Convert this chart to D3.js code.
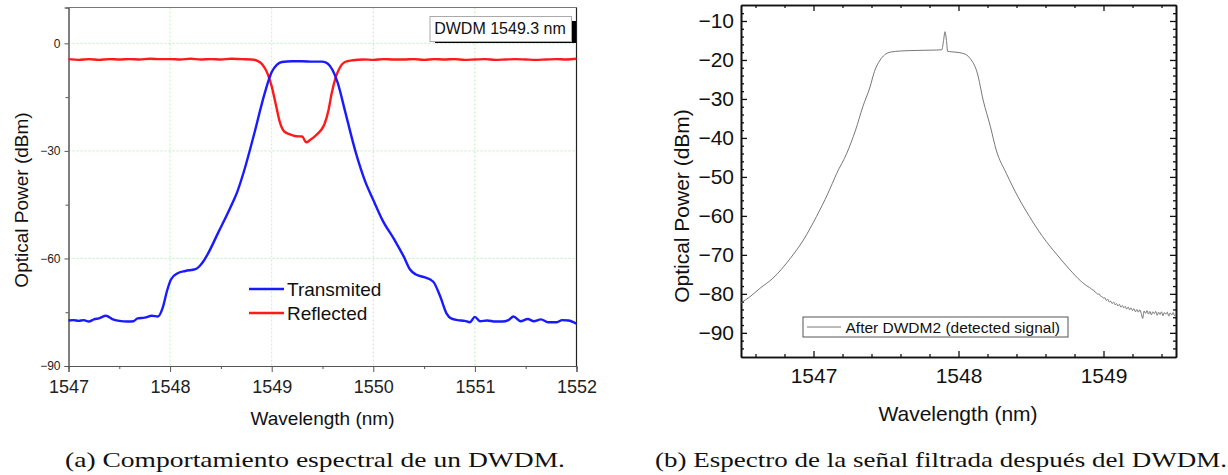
<!DOCTYPE html>
<html>
<head>
<meta charset="utf-8">
<script src="https://cdn.jsdelivr.net/npm/d3@7"></script>
<style>
  body { margin: 0; background: #fff; }
  svg { display: block; }
</style>
</head>
<body>
<svg id="fig" width="1228" height="475"></svg>
<script>
// ---- panel (a) data ----
var transWl = [1547.00,1547.05,1547.10,1547.15,1547.20,1547.25,1547.30,1547.37,1547.43,1547.50,1547.58,1547.64,1547.68,1547.75,1547.82,1547.88,1547.93,1547.97,1548.01,1548.07,1548.15,1548.25,1548.31,1548.37,1548.47,1548.59,1548.66,1548.73,1548.83,1548.93,1549.00,1549.05,1549.10,1549.20,1549.30,1549.40,1549.50,1549.55,1549.60,1549.65,1549.72,1549.83,1549.92,1550.00,1550.09,1550.21,1550.30,1550.36,1550.42,1550.50,1550.59,1550.66,1550.72,1550.77,1550.83,1550.90,1550.95,1551.00,1551.05,1551.12,1551.20,1551.27,1551.33,1551.38,1551.45,1551.52,1551.58,1551.65,1551.72,1551.80,1551.86,1551.92,1552.00];
var transDb = [-77.3,-77.2,-77.4,-77.2,-77.6,-77.0,-76.7,-76.0,-76.9,-77.4,-77.6,-77.5,-76.7,-76.5,-76.0,-76.2,-73.5,-69.0,-65.8,-64.2,-63.5,-63.0,-61.5,-58.8,-53.0,-46.0,-41.5,-35.4,-25.0,-14.0,-8.0,-6.0,-5.2,-5.0,-5.0,-5.1,-5.1,-5.6,-7.5,-11.0,-18.7,-30.7,-38.5,-43.7,-49.3,-54.9,-59.5,-63.0,-64.5,-65.2,-66.5,-70.7,-75.3,-76.8,-77.2,-77.4,-77.8,-76.3,-77.5,-77.3,-77.6,-77.6,-77.2,-76.2,-77.5,-76.9,-77.5,-77.0,-77.8,-77.8,-77.2,-77.3,-78.2];

var reflWl = [1547.0,1547.1,1547.2,1547.3,1547.4,1547.5,1547.6,1547.7,1547.8,1547.9,1548.0,1548.1,1548.2,1548.3,1548.4,1548.5,1548.6,1548.7,1548.8,1548.86,1548.91,1548.96,1549.00,1549.04,1549.08,1549.12,1549.18,1549.24,1549.30,1549.34,1549.38,1549.43,1549.48,1549.52,1549.56,1549.59,1549.63,1549.67,1549.72,1549.80,1549.9,1550.0,1550.1,1550.2,1550.3,1550.4,1550.5,1550.6,1550.7,1550.8,1550.9,1551.0,1551.1,1551.2,1551.3,1551.4,1551.5,1551.6,1551.7,1551.8,1551.9,1552.0];
var reflDb = [-4.4,-4.6,-4.4,-4.6,-4.4,-4.5,-4.4,-4.5,-4.3,-4.4,-4.4,-4.5,-4.3,-4.5,-4.4,-4.5,-4.3,-4.4,-4.5,-4.9,-6.0,-8.5,-12.0,-17.0,-22.0,-24.5,-25.4,-25.9,-26.0,-27.6,-26.9,-25.8,-24.4,-22.5,-18.5,-14.0,-9.5,-6.8,-5.2,-4.7,-4.5,-4.6,-4.4,-4.5,-4.5,-4.4,-4.6,-4.4,-4.5,-4.4,-4.6,-4.5,-4.4,-4.6,-4.5,-4.4,-4.5,-4.6,-4.5,-4.4,-4.5,-4.3];

var aXTicks = [1547, 1548, 1549, 1550, 1551, 1552];
var aYTicks = [0, -30, -60, -90];

// ---- panel (b) data ----
var afterWl = [1546.50,1546.56,1546.63,1546.72,1546.84,1546.93,1547.02,1547.10,1547.16,1547.23,1547.29,1547.34,1547.39,1547.42,1547.46,1547.49,1547.53,1547.60,1547.72,1547.85,1547.885,1547.897,1547.907,1547.917,1547.925,1547.95,1548.03,1548.08,1548.13,1548.17,1548.22,1548.26,1548.33,1548.41,1548.49,1548.58,1548.68,1548.77,1548.84,
    1548.90,1548.91,1548.92,1548.93,1548.94,1548.95,1548.96,1548.97,1548.98,1548.99,1549.00,1549.01,1549.02,1549.03,1549.04,1549.05,1549.06,1549.07,1549.08,1549.09,1549.10,1549.11,1549.12,1549.13,1549.14,1549.15,1549.16,1549.17,1549.18,1549.19,1549.20,1549.21,1549.22,1549.23,1549.24,1549.25,1549.26,1549.27,1549.28,1549.29,1549.30,1549.31,1549.32,1549.33,1549.34,1549.35,1549.36,1549.37,1549.38,1549.39,1549.40,1549.41,1549.42,1549.43,1549.44,1549.45,1549.46,1549.47,1549.48,1549.49,1549.50];
var afterDb = [-82.3,-80.8,-78.6,-76.0,-70.9,-66.2,-60.2,-54.2,-49.1,-43.9,-38.0,-32.0,-26.9,-23.0,-20.0,-18.7,-18.0,-17.7,-17.55,-17.45,-17.4,-15.0,-12.75,-15.0,-17.8,-17.9,-18.3,-19.6,-23.4,-30.3,-37.1,-43.1,-49.1,-55.1,-60.2,-65.3,-70.0,-73.9,-76.6,
    -78.3,-78.5,-78.9,-79.0,-79.5,-79.7,-80.1,-80.0,-80.6,-80.7,-81.1,-81.0,-81.7,-81.4,-82.1,-81.9,-82.5,-82.1,-82.8,-82.5,-83.1,-82.7,-83.4,-83.0,-83.6,-83.2,-83.9,-83.4,-84.1,-83.6,-84.3,-83.8,-84.6,-84.0,-84.7,-84.1,-85.0,-86.3,-84.4,-85.0,-84.3,-85.2,-84.5,-85.4,-84.6,-85.1,-84.5,-85.5,-84.7,-85.3,-84.6,-85.6,-84.8,-85.2,-84.7,-85.7,-84.9,-85.4,-84.8,-85.6,-85.1];

var bXTicks = [1547, 1548, 1549];
var bYTicks = [-10, -20, -30, -40, -50, -60, -70, -80, -90];

var svg = d3.select("#fig");
var sans = "'Liberation Sans', Arial, sans-serif";

// =================== panel (a) ===================
var xa = d3.scaleLinear().domain([1547, 1552]).range([68.5, 576.5]);
var ya = d3.scaleLinear().domain([-90, 10]).range([366, 7.5]);

var ga = svg.append("g");

// grid
ga.selectAll(".vg").data([1548, 1549, 1550, 1551]).enter().append("line")
    .attr("x1", d => xa(d)).attr("x2", d => xa(d))
    .attr("y1", ya(10)).attr("y2", ya(-90))
    .attr("stroke", "#bdf0bd").attr("stroke-width", 1).attr("stroke-dasharray", "2,2");
ga.selectAll(".hg").data([0, -30, -60]).enter().append("line")
    .attr("x1", xa(1547)).attr("x2", xa(1552))
    .attr("y1", d => ya(d)).attr("y2", d => ya(d))
    .attr("stroke", "#bdf0bd").attr("stroke-width", 1).attr("stroke-dasharray", "2,2");

// axes
var xAxisA = d3.axisBottom(xa).tickValues(aXTicks).tickFormat(d3.format("d")).tickSize(6).tickPadding(8);
var xMinorA = d3.axisBottom(xa).tickValues([1547.5, 1548.5, 1549.5, 1550.5, 1551.5]).tickFormat("").tickSize(3);
var yAxisA = d3.axisLeft(ya).tickValues(aYTicks).tickFormat(d3.format("d")).tickSize(4).tickPadding(4);
var yMinorA = d3.axisLeft(ya).tickValues([-15, -45, -75]).tickFormat("").tickSize(3);

ga.append("g").attr("transform", "translate(0," + ya(-90) + ")").call(xAxisA)
    .call(g => g.selectAll("text").attr("font-size", 18).attr("font-family", sans).attr("fill", "#222"));
ga.append("g").attr("transform", "translate(0," + ya(-90) + ")").call(xMinorA);
ga.append("g").attr("transform", "translate(" + xa(1547) + ",0)").call(yAxisA)
    .call(g => g.selectAll("text").attr("font-size", 12).attr("font-family", sans).attr("fill", "#222"));
ga.append("g").attr("transform", "translate(" + xa(1547) + ",0)").call(yMinorA);
ga.selectAll(".domain").attr("stroke", "#555");
ga.selectAll(".tick line").attr("stroke", "#555");

// top + right frame
ga.append("line").attr("x1", xa(1547)).attr("x2", xa(1552)).attr("y1", ya(10)).attr("y2", ya(10))
    .attr("stroke", "#777").attr("stroke-width", 1);
ga.append("line").attr("x1", xa(1552)).attr("x2", xa(1552)).attr("y1", ya(10)).attr("y2", ya(-90))
    .attr("stroke", "#222").attr("stroke-width", 1.2);

var lineA = d3.line().x(d => xa(d[0])).y(d => ya(d[1])).curve(d3.curveMonotoneX);

ga.append("path").datum(reflWl.map((w, i) => [w, reflDb[i]]))
    .attr("d", lineA).attr("fill", "none").attr("stroke", "#ff1a1a").attr("stroke-width", 2.4);
ga.append("path").datum(transWl.map((w, i) => [w, transDb[i]]))
    .attr("d", lineA).attr("fill", "none").attr("stroke", "#1a1aff").attr("stroke-width", 2.4);

// title box
ga.append("rect").attr("x", 435).attr("y", 21).attr("width", 141).attr("height", 22).attr("fill", "#000");
ga.append("rect").attr("x", 430).attr("y", 16.5).attr("width", 141.5).attr("height", 25)
    .attr("fill", "#fff").attr("stroke", "#aaa").attr("stroke-width", 1);
ga.append("text").attr("x", 500).attr("y", 34).attr("text-anchor", "middle")
    .attr("font-family", sans).attr("font-size", 16).attr("fill", "#111").text("DWDM 1549.3 nm");

// legend
var legA = [["Transmited", "#1a1aff"], ["Reflected", "#ff1a1a"]];
legA.forEach(function (d, i) {
    var y = 289 + i * 24;
    ga.append("line").attr("x1", 249).attr("x2", 284).attr("y1", y).attr("y2", y)
        .attr("stroke", d[1]).attr("stroke-width", 2.4);
    ga.append("text").attr("x", 287).attr("y", y + 7).attr("font-family", sans)
        .attr("font-size", 19).attr("fill", "#111").text(d[0]);
});

// axis labels
ga.append("text").attr("x", 322.5).attr("y", 425).attr("text-anchor", "middle")
    .attr("font-family", sans).attr("font-size", 19).attr("fill", "#111").text("Wavelength (nm)");
ga.append("text").attr("transform", "translate(28,200) rotate(-90)").attr("text-anchor", "middle")
    .attr("font-family", sans).attr("font-size", 19).attr("fill", "#111").text("Optical Power (dBm)");

// =================== panel (b) ===================
var xb = d3.scaleLinear().domain([1546.5, 1549.5]).range([741, 1176]);
var yb = d3.scaleLinear().domain([-96.2, -5.9]).range([357, 5]);

var gb = svg.append("g");

var bMinorX = d3.range(1546.6, 1549.45, 0.2).map(d => +d.toFixed(1)).filter(d => bXTicks.indexOf(d) < 0);
var bMinorY = d3.range(-94, -6, 2).filter(d => d % 10 !== 0);

gb.append("g").attr("transform", "translate(0," + yb(-96.2) + ")")
    .call(d3.axisBottom(xb).tickValues(bXTicks).tickFormat(d3.format("d")).tickSizeInner(-6).tickSizeOuter(0).tickPadding(11))
    .call(g => g.selectAll("text").attr("font-size", 21).attr("font-family", sans).attr("fill", "#111"));
gb.append("g").attr("transform", "translate(0," + yb(-96.2) + ")")
    .call(d3.axisBottom(xb).tickValues(bMinorX).tickFormat("").tickSizeInner(-3).tickSizeOuter(0));
gb.append("g").attr("transform", "translate(0," + yb(-5.9) + ")")
    .call(d3.axisTop(xb).tickValues(bXTicks).tickFormat("").tickSizeInner(-6).tickSizeOuter(0));
gb.append("g").attr("transform", "translate(0," + yb(-5.9) + ")")
    .call(d3.axisTop(xb).tickValues(bMinorX).tickFormat("").tickSizeInner(-3).tickSizeOuter(0));

gb.append("g").attr("transform", "translate(" + xb(1546.5) + ",0)")
    .call(d3.axisLeft(yb).tickValues(bYTicks).tickFormat(d3.format("d")).tickSizeInner(-6).tickSizeOuter(0).tickPadding(7))
    .call(g => g.selectAll("text").attr("font-size", 21).attr("font-family", sans).attr("fill", "#111"));
gb.append("g").attr("transform", "translate(" + xb(1546.5) + ",0)")
    .call(d3.axisLeft(yb).tickValues(bMinorY).tickFormat("").tickSizeInner(-3).tickSizeOuter(0));
gb.append("g").attr("transform", "translate(" + xb(1549.5) + ",0)")
    .call(d3.axisRight(yb).tickValues(bYTicks).tickFormat("").tickSizeInner(-6).tickSizeOuter(0));
gb.append("g").attr("transform", "translate(" + xb(1549.5) + ",0)")
    .call(d3.axisRight(yb).tickValues(bMinorY).tickFormat("").tickSizeInner(-3).tickSizeOuter(0));

gb.selectAll(".domain").attr("stroke", "#111").attr("stroke-width", 1.6);
gb.selectAll(".tick line").attr("stroke", "#111").attr("stroke-width", 1.3);

var lineB = d3.line().x(d => xb(d[0])).y(d => yb(d[1])).curve(d3.curveMonotoneX);
gb.append("path").datum(afterWl.map((w, i) => [w, afterDb[i]]))
    .attr("d", lineB).attr("fill", "none").attr("stroke", "#666").attr("stroke-width", 0.9);

// legend
gb.append("rect").attr("x", 803).attr("y", 317).attr("width", 265).attr("height", 20)
    .attr("fill", "#fff").attr("stroke", "#555").attr("stroke-width", 1);
gb.append("line").attr("x1", 807).attr("x2", 841).attr("y1", 327).attr("y2", 327)
    .attr("stroke", "#777").attr("stroke-width", 1);
gb.append("text").attr("x", 845.5).attr("y", 332.5).attr("font-family", sans)
    .attr("font-size", 15.5).attr("fill", "#111").text("After DWDM2 (detected signal)");

// axis labels
gb.append("text").attr("x", 958).attr("y", 421).attr("text-anchor", "middle")
    .attr("font-family", sans).attr("font-size", 21).attr("fill", "#111").text("Wavelength (nm)");
gb.append("text").attr("transform", "translate(689,206) rotate(-90)").attr("text-anchor", "middle")
    .attr("font-family", sans).attr("font-size", 21).attr("fill", "#111").text("Optical Power (dBm)");

// =================== captions ===================
var serif = "'Liberation Serif', 'DejaVu Serif', serif";
svg.append("text").attr("x", 65).attr("y", 466.5).attr("font-family", serif).attr("font-size", 21)
    .attr("textLength", 500).attr("lengthAdjust", "spacingAndGlyphs").attr("fill", "#111")
    .text("(a) Comportamiento espectral de un DWDM.");
svg.append("text").attr("x", 655).attr("y", 466.5).attr("font-family", serif).attr("font-size", 21)
    .attr("textLength", 572).attr("lengthAdjust", "spacingAndGlyphs").attr("fill", "#111")
    .text("(b) Espectro de la señal filtrada después del DWDM.");
</script>
</body>
</html>
